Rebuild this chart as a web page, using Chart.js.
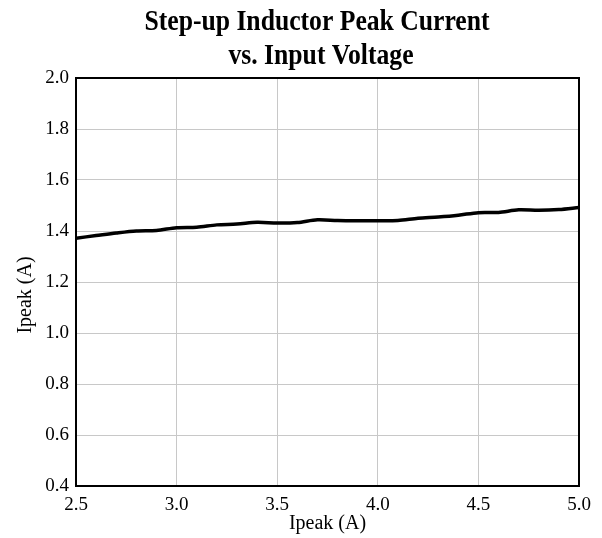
<!DOCTYPE html>
<html>
<head>
<meta charset="utf-8">
<script src="https://cdn.jsdelivr.net/npm/chart.js@4/dist/chart.umd.min.js"></script>
<style>
	html, body { margin: 0; padding: 0; background: #fff; }
	#box { width: 602px; height: 538px; }
</style>
</head>
<body>
<div id="box"><canvas id="peakChart"></canvas></div>
<script>
// data
const vin = [2.5, 2.6, 2.7, 2.8, 2.9, 3.0, 3.1, 3.2, 3.3, 3.4, 3.5, 3.6, 3.7,
	3.8, 3.9, 4.0, 4.1, 4.2, 4.3, 4.4, 4.5, 4.6, 4.7, 4.8, 4.9, 5.0];
const ipeak = [1.372, 1.382, 1.392, 1.400, 1.402, 1.413, 1.415, 1.424, 1.427, 1.434, 1.431, 1.433, 1.444,
	1.441, 1.440, 1.440, 1.441, 1.450, 1.455, 1.462, 1.472, 1.473, 1.483, 1.481, 1.484, 1.492];
const titleLines = ["Step-up Inductor Peak Current", "vs. Input Voltage"];
const xTitle = "Ipeak (A)";
const yTitle = "Ipeak (A)";

const serif = "'Liberation Serif', 'DejaVu Serif', serif";

let points = [];
for (let i = 0; i < vin.length; i++) {
	points[i] = { x: vin[i], y: ipeak[i] };
}

// frame round the plot area, the narrow bold title and the y title
const extras = {
	id: 'extras',
	afterDraw(chart) {
		const a = chart.chartArea;
		const c = chart.ctx;
		c.save();
		c.strokeStyle = '#000';
		c.lineWidth = 2;
		c.strokeRect(a.left, a.top, a.right - a.left, a.bottom - a.top);

		// title is a condensed bold serif in the original
		c.fillStyle = '#000';
		c.textAlign = 'center';
		c.textBaseline = 'alphabetic';
		c.font = "bold 30px " + serif;
		const cx = 317;
		c.save();
		c.scale(0.855, 1);
		c.fillText(titleLines[0], cx / 0.855, 30);
		c.fillText(titleLines[1], (cx + 4) / 0.855, 64);
		c.restore();

		c.font = "20px " + serif;
		c.textBaseline = 'middle';
		c.translate(26, 295);
		c.rotate(-Math.PI / 2);
		c.fillText(yTitle, 0, 0);
		c.restore();
	}
};

const ctx = document.getElementById('peakChart').getContext('2d');
let myChart = new Chart(ctx, {
	type: 'scatter',
	data: {
		datasets: [{
			data: points,
			showLine: true,
			borderColor: '#000',
			borderWidth: 3.5,
			pointRadius: 0,
			tension: 0.3,
			fill: false
		}]
	},
	plugins: [extras],
	options: {
		responsive: true,
		maintainAspectRatio: false,
		animation: false,
		layout: { padding: { left: 0, right: 23, top: 78, bottom: 0 } },
		plugins: {
			legend: { display: false },
			tooltip: { enabled: false },
			title: { display: false }
		},
		scales: {
			x: {
				type: 'linear',
				min: 2.5,
				max: 5.0,
				border: { display: false },
				grid: { color: '#c8c8c8', lineWidth: 1, drawTicks: false },
				ticks: {
					stepSize: 0.5,
					color: '#000',
					padding: 8,
					maxRotation: 0,
					font: { family: serif, size: 19 },
					callback: (v) => v.toFixed(1)
				},
				title: {
					display: true,
					text: xTitle,
					color: '#000',
					font: { family: serif, size: 20 },
					padding: { top: 0, bottom: 2 }
				},
				afterFit: (s) => { s.height = 52; }
			},
			y: {
				min: 0.4,
				max: 2.0,
				border: { display: false },
				grid: { color: '#c8c8c8', lineWidth: 1, drawTicks: false },
				ticks: {
					stepSize: 0.2,
					color: '#000',
					padding: 7,
					font: { family: serif, size: 19 },
					callback: (v) => v.toFixed(1)
				},
				title: { display: false },
				afterFit: (s) => { s.width = 76; }
			}
		}
	}
});
</script>
</body>
</html>
